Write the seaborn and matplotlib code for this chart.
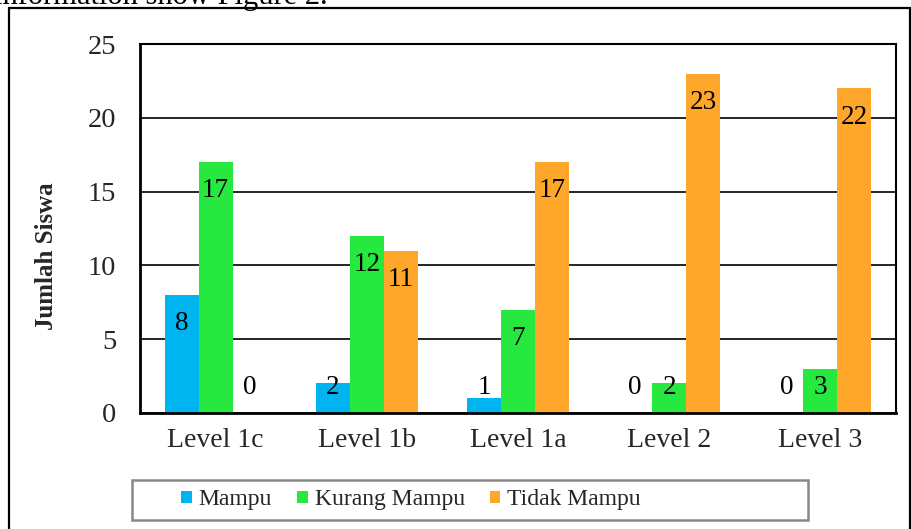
import numpy as np
import pandas as pd
import matplotlib.pyplot as plt
import matplotlib.patches as mpatches
import seaborn as sns

levels = ["Level 1c", "Level 1b", "Level 1a", "Level 2", "Level 3"]
kategori = ["Mampu", "Kurang Mampu", "Tidak Mampu"]
mampu = [8, 2, 1, 0, 0]
kurang_mampu = [17, 12, 7, 2, 3]
tidak_mampu = [0, 11, 17, 23, 22]
warna = ["#00B4F0", "#26E83F", "#FFA72A"]

df = pd.DataFrame({
    "Level": levels * 3,
    "Kategori": [k for k in kategori for _ in levels],
    "Jumlah": mampu + kurang_mampu + tidak_mampu,
})

sns.set_style("white")
plt.rcParams["font.family"] = ["Liberation Serif", "DejaVu Serif"]

fig = plt.figure(figsize=(9.12, 5.29), dpi=100)
ax = fig.add_axes([140/912, 1-413/529, (896-140)/912, (413-44)/529])

sns.barplot(data=df, x="Level", y="Jumlah", hue="Kategori", palette=warna,
            width=0.675, gap=0, saturation=1, linewidth=0, ax=ax)
handles, labels = ax.get_legend_handles_labels()
ax.get_legend().remove()

# label angka di dalam ujung batang
for cont in ax.containers:
    for bar in cont:
        v = bar.get_height()
        y = max(v - 1.95, 1.7)
        ax.text(bar.get_x() + bar.get_width()/2, y, f"{v:.0f}",
                ha="center", va="center", fontsize=19.5, color="black")

ax.set_ylim(0, 25)
ax.set_yticks(np.arange(0, 26, 5))
ax.set_xlim(-0.5, 4.5)
ax.set_xticks(range(len(levels)))
ax.set_xticklabels(levels)
ax.set_xticks(np.arange(-0.5, 5, 1), minor=True)
ax.tick_params(axis="x", which="major", length=0, pad=11, labelsize=20)
ax.tick_params(axis="x", which="minor", length=8, width=1.5, direction="out", color="black")
ax.tick_params(axis="y", length=8, width=1.5, direction="out", color="black", pad=9, labelsize=20.5)
ax.yaxis.grid(True, color="black", linewidth=1.2)
ax.set_axisbelow(True)
for s in ["left", "bottom", "right", "top"]:
    ax.spines[s].set_visible(True)
    ax.spines[s].set_color("black")
    ax.spines[s].set_linewidth(1.5)
ax.spines["left"].set_linewidth(2)
ax.spines["bottom"].set_linewidth(2)

ax.set_xlabel("")
ax.set_ylabel("Jumlah Siswa", fontsize=18, fontweight="bold")
ax.yaxis.set_label_coords(-0.108, 0.425)

# legenda
fig.legend(handles, labels, loc="center", bbox_to_anchor=(411/912, 1-500/529),
           ncol=3, frameon=False, fontsize=17, handlelength=0.45,
           handleheight=0.45, handletextpad=0.3, columnspacing=1.05)
fig.patches.append(mpatches.Rectangle((132/912, 1-520/529), (808-132)/912, 40/529,
                                      transform=fig.transFigure, fill=False,
                                      edgecolor="#888888", linewidth=1.8))

# bingkai luar dan teks terpotong di atas
fig.patches.append(mpatches.Rectangle((9/912, -0.05), (910-9)/912, 1.05-8/529,
                                      transform=fig.transFigure, fill=False,
                                      edgecolor="black", linewidth=1.6))
fig.text(-6/912, 1-4/529, "information show Figure 2.", fontsize=22,
         ha="left", va="baseline", color="black")

fig.savefig("out.png", dpi=100)
